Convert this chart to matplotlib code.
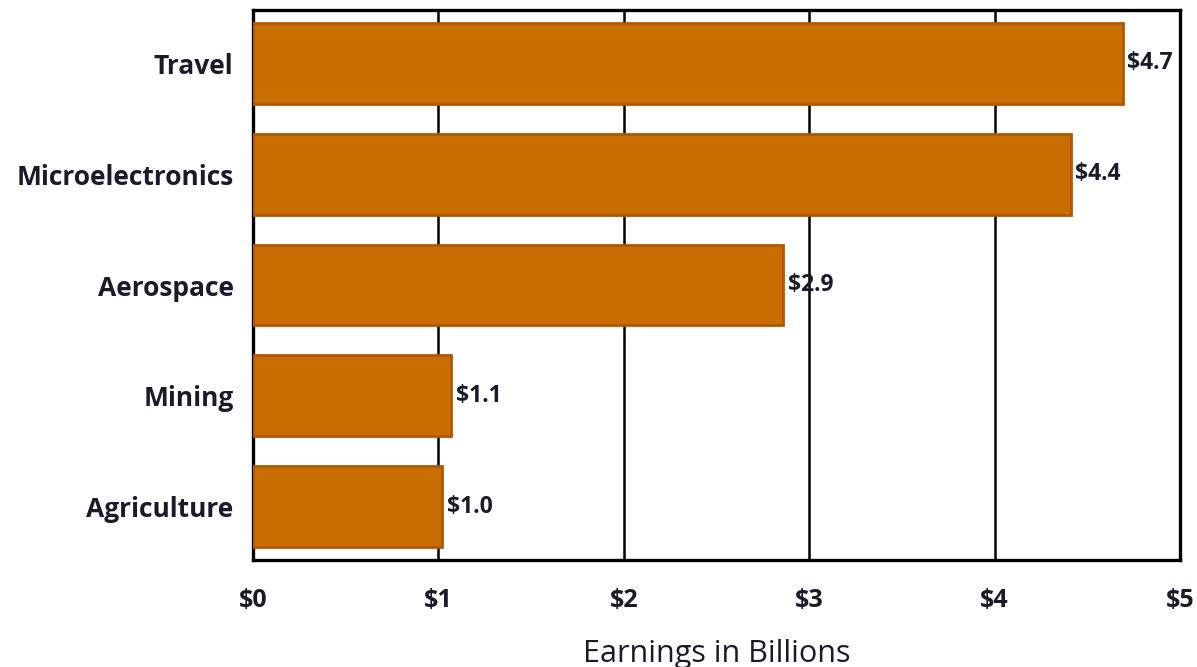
import matplotlib
matplotlib.use('Agg')
import matplotlib.pyplot as plt

categories = ['Agriculture', 'Mining', 'Aerospace', 'Microelectronics', 'Travel']
earnings = [1.02, 1.07, 2.86, 4.41, 4.69]
value_labels = ['$1.0', '$1.1', '$2.9', '$4.4', '$4.7']
xticks = [0, 1, 2, 3, 4, 5]
xtick_labels = ['$0', '$1', '$2', '$3', '$4', '$5']

plt.rcParams['font.family'] = ['Open Sans', 'DejaVu Sans']
txt_color = '#1a1a2a'

fig = plt.figure(figsize=(11.97, 6.67), dpi=100)
ax = fig.add_axes([0.2114, 0.1604, 0.9858 - 0.2114, 0.985 - 0.1604])

ypos = list(range(len(categories)))
ax.barh(ypos, earnings, height=0.73, color='#C86E00', edgecolor='#B05800',
        linewidth=2, zorder=3)

for y, v, lab in zip(ypos, earnings, value_labels):
    ax.text(v + 0.025, y, lab, va='center', ha='left', fontsize=16.5,
            fontweight='bold', color=txt_color, zorder=4)

ax.set_xlim(0, 5)
ax.set_ylim(-0.483, 4.483)
ax.set_xticks(xticks)
ax.set_xticklabels(xtick_labels, fontsize=18, fontweight='bold', color=txt_color)
ax.set_yticks(ypos)
ax.set_yticklabels(categories, fontsize=19, fontweight='bold', color=txt_color)
ax.tick_params(axis='both', length=0)
ax.tick_params(axis='x', pad=20)
ax.tick_params(axis='y', pad=14)

ax.grid(axis='x', color='black', linewidth=1.8, zorder=1)
for s in ax.spines.values():
    s.set_linewidth(2.4)
    s.set_color('black')

ax.set_xlabel('Earnings in Billions', fontsize=22, color=txt_color, labelpad=19)

fig.savefig('out.png', dpi=100)
